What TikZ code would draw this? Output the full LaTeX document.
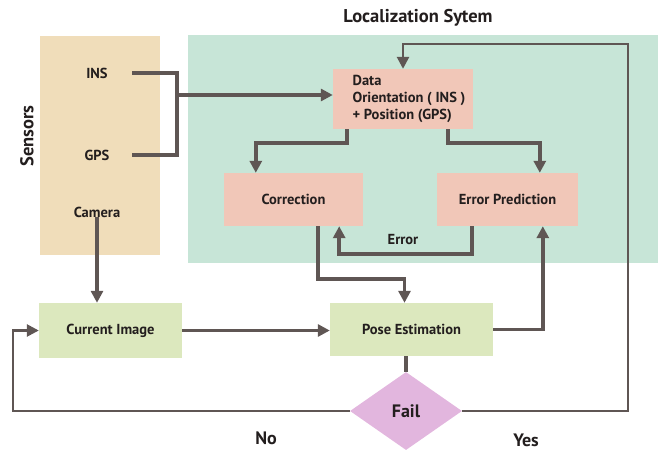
\documentclass[tikz,border=0pt]{standalone}
\usepackage{fontspec}
\setmainfont{PT Sans}
\usetikzlibrary{positioning, arrows.meta, shapes.geometric}

\definecolor{sensorbg}{RGB}{240,221,186}
\definecolor{locbg}{RGB}{199,229,215}
\definecolor{pinkbox}{RGB}{241,199,184}
\definecolor{greenbox}{RGB}{220,232,190}
\definecolor{failbox}{RGB}{226,182,222}
\definecolor{linecol}{RGB}{95,86,84}
\definecolor{txtcol}{RGB}{35,30,30}

\tikzset{
    every node/.style={text=txtcol, font=\bfseries\fontsize{14.5}{17}\selectfont},
    sensor/.style={minimum width=70pt, inner sep=2pt},
    stagebox/.style={rectangle, fill=pinkbox, inner sep=0pt},
    imgbox/.style={rectangle, fill=greenbox, inner sep=0pt},
    flow/.style={draw=linecol, line width=3.8pt},
    arrow/.style={flow, -{Triangle[length=12pt, width=12pt]}},
    loopline/.style={draw=linecol, line width=2.6pt},
}

\begin{document}
\begin{tikzpicture}[x=1pt, y=-1pt]

    \useasboundingbox (0,0) rectangle (660,452);

    \fill[sensorbg] (40,36) rectangle (160,255);
    \fill[locbg] (188,35) rectangle (658,263);

    \node (title) at (418,18) {\fontsize{18.5}{20}\selectfont Localization Sytem};
    \node[rotate=90] (sensors) at (27,136) {\fontsize{18.5}{20}\selectfont Sensors};

    \node[sensor] (ins) at (97,73) {INS};
    \node[sensor] (gps) at (97,155) {GPS};
    \node[sensor] (camera) at (97,212) {Camera};

    \node[stagebox, minimum width=140pt, minimum height=60pt] (data) at (403,99)
        {\begin{tabular}{@{\hspace{12pt}}l@{}}Data\\Orientation ( INS )\\+ Position (GPS)\end{tabular}};
    \node[stagebox, minimum width=139pt, minimum height=53pt] (correction) at (293.5,199.5) {Correction};
    \node[stagebox, minimum width=141pt, minimum height=53pt] (errpred) at (507.5,199.5) {Error Prediction};

    \node[imgbox, minimum width=143pt, minimum height=55pt] (current) at (110.5,330.5) {Current Image};
    \node[imgbox, minimum width=163pt, minimum height=53pt] (pose) at (411.5,329.5) {Pose Estimation};

    \node[diamond, fill=failbox, minimum width=112pt, minimum height=78pt, aspect=1.44, inner sep=0pt] (fail) at (406,411)
        {\fontsize{18}{20}\selectfont Fail};

    \node (no) at (266,438) {\fontsize{18}{20}\selectfont No};
    \node (yes) at (526,440) {\fontsize{18}{20}\selectfont Yes};
    \node (err) at (403,240) {Error};

    \coordinate (join) at (177,95);
    \coordinate (leftx) at (13,411);
    \coordinate (topright) at (628,44);

    \draw[flow] (ins.east) -- (join |- ins.east) -- (join |- gps.east) -- (gps.east);
    \draw[arrow] (join) -- (join -| data.west);

    \draw[arrow] ([xshift=14pt]data.south west) -- ++(0,14) -| ([xshift=32pt]correction.north west);
    \draw[arrow] ([xshift=-25pt]data.south east) -- ++(0,14) -| ([xshift=103pt]errpred.north west);

    \draw[arrow] ([xshift=35pt]errpred.south west) -- ++(0,28) -| ([xshift=-24pt]correction.south east);
    \draw[arrow] ([xshift=94pt]correction.south west) -- ++(0,53) -| ([xshift=-7pt]pose.north);

    \draw[arrow] ([yshift=2pt]camera.south) -- (camera.south |- current.north);
    \draw[arrow] (current.east) -- (current.east -| pose.west);
    \draw[arrow] (pose.east) -| ([xshift=106pt]errpred.south west);

    \draw[flow] (fail.north |- pose.south) -- (fail.north);

    \draw[loopline, -{Triangle[length=12pt, width=12pt]}] (fail.west) -- (leftx) |- (current.west);
    \draw[loopline, -{Triangle[length=12pt, width=12pt]}] (fail.east) -| (topright) -| (data.north);

\end{tikzpicture}
\end{document}
